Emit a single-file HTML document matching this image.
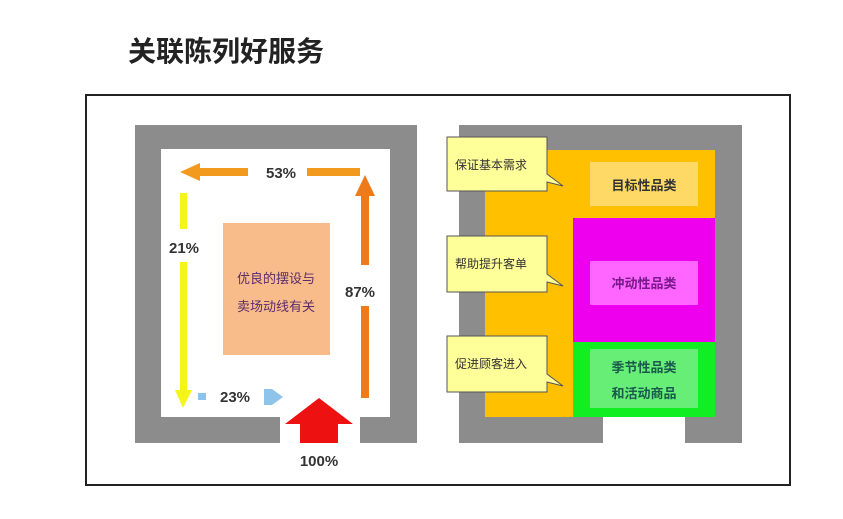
<!DOCTYPE html>
<html><head><meta charset="utf-8"><style>
html,body{margin:0;padding:0;background:#fff;}
svg{display:block;}
text{font-family:"Liberation Sans","Noto Sans CJK SC",sans-serif;}
</style></head><body>
<svg width="843" height="519" viewBox="0 0 843 519" xmlns="http://www.w3.org/2000/svg">
<rect width="843" height="519" fill="#fff"/>
<text x="128" y="61" font-size="28" font-weight="bold" fill="#222" font-family="'Noto Sans CJK SC',sans-serif">关联陈列好服务</text>
<rect x="86" y="95" width="704" height="390" fill="#fff" stroke="#222" stroke-width="2"/>

<!-- left diagram -->
<rect x="135" y="125" width="282" height="318" fill="#8c8c8c"/>
<rect x="161" y="149" width="229" height="268" fill="#fff"/>
<rect x="280" y="410" width="80" height="34" fill="#fff"/>
<rect x="223" y="223" width="107" height="132" fill="#f8bb8a"/>
<text x="276" y="283" font-size="13" fill="#5a2d6a" text-anchor="middle">优良的摆设与</text>
<text x="276" y="311" font-size="13" fill="#5a2d6a" text-anchor="middle">卖场动线有关</text>
<!-- top orange -->
<rect x="196" y="168" width="52" height="8" fill="#f29a1e"/>
<rect x="307" y="168" width="53" height="8" fill="#f29a1e"/>
<polygon points="180,172 200,163 200,181" fill="#f29a1e"/>
<text x="281" y="178" font-size="15" font-weight="bold" fill="#333" text-anchor="middle">53%</text>
<!-- yellow down -->
<rect x="180" y="193" width="7" height="36" fill="#f5f51a"/>
<rect x="180" y="262" width="7" height="130" fill="#f5f51a"/>
<polygon points="175,390 192,390 183,408" fill="#f5f51a"/>
<text x="184" y="253" font-size="15" font-weight="bold" fill="#333" text-anchor="middle">21%</text>
<!-- right orange up -->
<rect x="361" y="193" width="8" height="72" fill="#ef7a1a"/>
<rect x="361" y="306" width="8" height="92" fill="#ef7a1a"/>
<polygon points="355,196 375,196 365,175" fill="#ef7a1a"/>
<text x="360" y="297" font-size="15" font-weight="bold" fill="#333" text-anchor="middle">87%</text>
<!-- blue -->
<rect x="198" y="393" width="8" height="7" fill="#8ec4ea"/>
<text x="235" y="402" font-size="15" font-weight="bold" fill="#333" text-anchor="middle">23%</text>
<polygon points="264,389 272,389 283,397 272,405 264,405" fill="#8ec4ea"/>
<!-- red -->
<polygon points="319,398 353,424 338,424 338,443 300,443 300,424 285,424" fill="#ee1111"/>
<text x="319" y="466" font-size="15" font-weight="bold" fill="#333" text-anchor="middle">100%</text>

<!-- right diagram -->
<rect x="459" y="125" width="283" height="318" fill="#8c8c8c"/>
<rect x="485" y="150" width="230" height="267" fill="#ffc000"/>
<rect x="603" y="417" width="82" height="27" fill="#fff"/>
<rect x="590" y="162" width="108" height="44" fill="#ffd966"/>
<text x="644" y="190" font-size="13" font-weight="bold" fill="#333" text-anchor="middle">目标性品类</text>
<rect x="573" y="218" width="142" height="124" fill="#ee00ee"/>
<rect x="590" y="261" width="108" height="44" fill="#ff66ff"/>
<text x="644" y="288" font-size="13" font-weight="bold" fill="#7a1a8a" text-anchor="middle">冲动性品类</text>
<rect x="573" y="342" width="142" height="75" fill="#11ee22"/>
<rect x="590" y="349" width="108" height="59" fill="#66ee77"/>
<text x="644" y="372" font-size="13" font-weight="bold" fill="#1a5a4a" text-anchor="middle">季节性品类</text>
<text x="644" y="398" font-size="13" font-weight="bold" fill="#1a5a4a" text-anchor="middle">和活动商品</text>
<!-- callouts -->
<g fill="#ffff99" stroke="#555" stroke-width="1">
<path d="M447,137 H547 V174 L563,186 L547,182 V191 H447 Z"/>
<path d="M447,236 H547 V274 L563,286 L547,282 V292 H447 Z"/>
<path d="M447,336 H547 V374 L563,386 L547,382 V392 H447 Z"/>
</g>
<g font-size="12" fill="#333" font-family="'Noto Serif CJK SC','Noto Sans CJK SC',serif">
<text x="455" y="169">保证基本需求</text>
<text x="455" y="268">帮助提升客单</text>
<text x="455" y="368">促进顾客进入</text>
</g>
</svg>
</body></html>
